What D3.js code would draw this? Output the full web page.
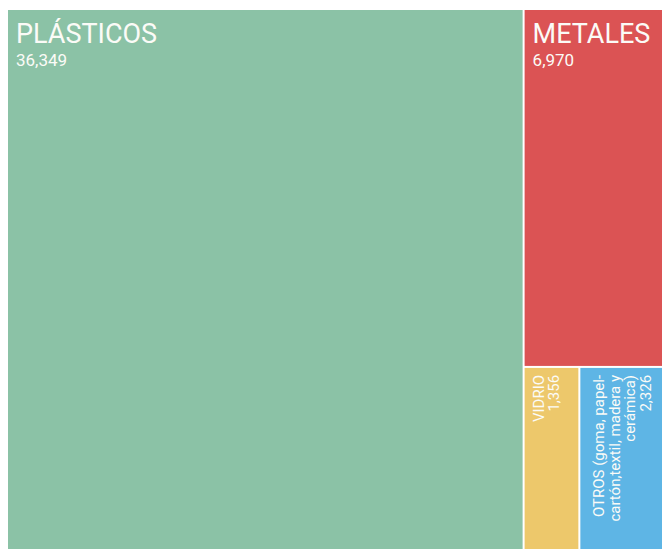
<html>
<head>
<meta charset="utf-8">
<script src="https://d3js.org/d3.v7.min.js"></script>
<style>
body { margin:0; background:#fff; overflow:hidden; }
text { font-family: Roboto, sans-serif; fill:#fbfbf7; }
</style>
</head>
<body>
<svg width="662" height="549"></svg>
<script>
// data
var categories = ["PLÁSTICOS", "METALES", "VIDRIO", "OTROS (goma, papel-cartón,textil, madera y cerámica)"];
var values = [36349, 6970, 1356, 2326];
var colors = ["#8bc2a6", "#db5354", "#edc86b", "#5eb5e5"];
// wrapped labels for the narrow boxes
var labelLines = [["PLÁSTICOS"], ["METALES"], ["VIDRIO"], ["OTROS (goma, papel-", "cartón,textil, madera y", "cerámica)"]];

var width = 666, height = 545;
var margin = {top: 10, left: 8};
var fmt = d3.format(",");

var items = categories.map(function(c, i) {
	return {name: c, value: values[i], color: colors[i], lines: labelLines[i]};
});
// nesting gives the layout seen in the picture: big | (top / (left | right))
var tree = {children: [items[0], {children: [items[1], {children: [items[2], items[3]]}]}]};

var root = d3.hierarchy(tree).sum(function(d) { return d.value || 0; });
d3.treemap()
	.tile(d3.treemapSliceDice)
	.size([width, height])
	.paddingInner(2)(root);

var svg = d3.select("svg");
var g = svg.append("g")
	.attr("transform", "translate(" + margin.left + "," + margin.top + ")");

var leaves = g.selectAll(".leaf")
	.data(root.leaves())
	.enter()
	.append("g")
	.attr("class", "leaf");

leaves.append("rect")
	.attr("x", function(d) { return d.x0; })
	.attr("y", function(d) { return d.y0; })
	.attr("width", function(d) { return d.x1 - d.x0; })
	.attr("height", function(d) { return d.y1 - d.y0; })
	.attr("fill", function(d) { return d.data.color; });

// big boxes: horizontal labels
var big = leaves.filter(function(d) { return d.x1 - d.x0 > 100; });
big.append("text")
	.attr("x", function(d) { return d.x0 + 8; })
	.attr("y", function(d) { return d.y0 + 33; })
	.style("font-size", "27px")
	.text(function(d) { return d.data.name; });
big.append("text")
	.attr("x", function(d) { return d.x0 + 8; })
	.attr("y", function(d) { return d.y0 + 56; })
	.style("font-size", "17px")
	.text(function(d) { return fmt(d.data.value); });

// small boxes: rotated labels, ending near the top, block centred across the box
var lh = 15.5;
var small = leaves.filter(function(d) { return d.x1 - d.x0 <= 100; });
var st = small.append("text")
	.attr("transform", function(d) { return "translate(" + d.x0 + "," + (d.y0 + 7) + ") rotate(-90)"; })
	.attr("text-anchor", "end")
	.style("font-size", "15px");
st.each(function(d) {
	var t = d3.select(this);
	var lines = d.data.lines.concat([fmt(d.data.value)]);
	var start = (d.x1 - d.x0) / 2 - lines.length * lh / 2 + 8;
	lines.forEach(function(l, i) {
		t.append("tspan")
			.attr("x", 0)
			.attr("y", start + i * lh)
			.text(l);
	});
});
</script>
</body>
</html>
